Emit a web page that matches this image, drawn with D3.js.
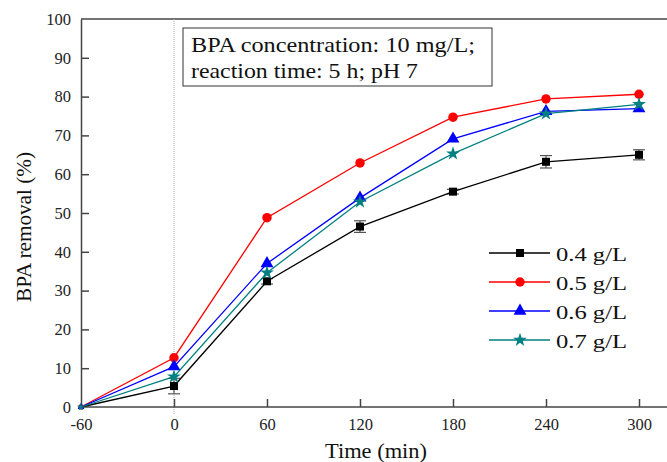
<!DOCTYPE html>
<html>
<head>
<meta charset="utf-8">
<script src="https://cdn.jsdelivr.net/npm/d3@7"></script>
<style>
  body { margin: 0; background: #fff; }
  svg text { font-family: "Liberation Serif", Tinos, "Times New Roman", "DejaVu Serif", serif; }
</style>
</head>
<body>
<svg id="drawing_region"></svg>
<script>
const times = [-60, 0, 60, 120, 180, 240, 300];
const xTicks = [-60, 0, 60, 120, 180, 240, 300];
const yTicks = [0, 10, 20, 30, 40, 50, 60, 70, 80, 90, 100];
const labels = ['0.4 g/L', '0.5 g/L', '0.6 g/L', '0.7 g/L'];
const colors = ['#000000', '#ff0000', '#0000ff', '#008080'];
const symbols = ['square', 'circle', 'triangle', 'star'];
const v04 = [0, 5.4, 32.4, 46.5, 55.5, 63.2, 65.0];
const v05 = [0, 12.7, 48.8, 62.9, 74.7, 79.4, 80.6];
const v06 = [0, 10.4, 37.0, 53.9, 69.1, 76.2, 76.9];
const v07 = [0, 7.8, 34.6, 52.9, 65.3, 75.6, 78.0];
const e04 = [0, 2.0, 0.7, 1.5, 0.6, 1.6, 1.3];
const series = [v04, v05, v06, v07];
const note = ['BPA concentration: 10 mg/L;', 'reaction time: 5 h; pH 7'];

const FONT = '"Liberation Serif", Tinos, "Times New Roman", "DejaVu Serif", serif';

const config = {
    width: 667, height: 462
};

const svg = d3.select('#drawing_region')
    .attr('width', config.width)
    .attr('height', config.height)
    .attr('font-family', FONT);

const xscale = d3.scaleLinear().domain([-60, 300]).range([81, 639]);
const yscale = d3.scaleLinear().domain([0, 100]).range([407, 19]);

const axisColor = '#444';

// top frame line runs to the right edge
svg.append('line')
    .attr('x1', xscale(-60)).attr('x2', config.width)
    .attr('y1', yscale(100)).attr('y2', yscale(100))
    .attr('stroke', axisColor).attr('stroke-width', 1.5);

// dotted line at t = 0
svg.append('line')
    .attr('x1', xscale(0)).attr('x2', xscale(0))
    .attr('y1', yscale(100)).attr('y2', yscale(0) + 8)
    .attr('stroke', '#aaa').attr('stroke-width', 1)
    .attr('stroke-dasharray', '1,1');

const xaxis = svg.append('g')
    .attr('transform', `translate(0, ${yscale(0)})`)
    .call(d3.axisBottom(xscale).tickValues(xTicks).tickSize(-8).tickPadding(11)
        .tickSizeOuter(0).tickFormat(d => String(d)));
xaxis.select('.domain').attr('d', `M${xscale(-60)},0H${config.width}`);

const yaxis = svg.append('g')
    .attr('transform', `translate(${xscale(-60)}, 0)`)
    .call(d3.axisLeft(yscale).tickValues(yTicks).tickSize(-8).tickPadding(10)
        .tickSizeOuter(0).tickFormat(d => String(d)));

[xaxis, yaxis].forEach(g => {
    g.attr('font-family', FONT);
    g.select('.domain').attr('stroke', axisColor).attr('stroke-width', 1.5);
    g.selectAll('.tick line').attr('stroke', axisColor).attr('stroke-width', 1.5);
    g.selectAll('.tick text')
        .attr('fill', '#222')
        .style('font-size', '16.5px');
});
yaxis.selectAll('.tick').filter(d => d === 0 || d === 100).select('line').remove();
xaxis.selectAll('.tick').filter(d => d === -60).select('line').remove();

// axis titles
svg.append('text')
    .attr('x', 325).attr('y', 458)
    .attr('textLength', 102).attr('lengthAdjust', 'spacingAndGlyphs')
    .style('font-size', '21px')
    .attr('fill', '#111')
    .text('Time (min)');

svg.append('text')
    .attr('transform', `translate(31, 302) rotate(-90)`)
    .attr('textLength', 150).attr('lengthAdjust', 'spacingAndGlyphs')
    .style('font-size', '21px')
    .attr('fill', '#111')
    .text('BPA removal (%)');

// note box
const noteWidths = [284, 227];
svg.append('rect')
    .attr('x', 183).attr('y', 28).attr('width', 309).attr('height', 58)
    .attr('fill', 'none').attr('stroke', '#333').attr('stroke-width', 1);
note.forEach((t, i) => {
    svg.append('text')
        .attr('x', 191).attr('y', 52 + i * 25.5)
        .attr('textLength', noteWidths[i]).attr('lengthAdjust', 'spacingAndGlyphs')
        .style('font-size', '21px')
        .attr('fill', '#111')
        .text(t);
});

const symType = {
    square: d3.symbolSquare, circle: d3.symbolCircle,
    triangle: d3.symbolTriangle, star: d3.symbolStar
};
const symSize = {square: 64, circle: 70, triangle: 72, star: 60};

// error bars for 0.4 g/L
const ebar = svg.append('g').attr('stroke', '#555').attr('stroke-width', 1.2);
times.forEach((t, i) => {
    if (e04[i] <= 0) return;
    const x = xscale(t);
    const y1 = yscale(v04[i] - e04[i]), y2 = yscale(v04[i] + e04[i]);
    ebar.append('line').attr('x1', x).attr('x2', x).attr('y1', y1).attr('y2', y2);
    ebar.append('line').attr('x1', x - 6).attr('x2', x + 6).attr('y1', y1).attr('y2', y1);
    ebar.append('line').attr('x1', x - 6).attr('x2', x + 6).attr('y1', y2).attr('y2', y2);
});

const line = d3.line().x((d, i) => xscale(times[i])).y(d => yscale(d));

series.forEach((vals, k) => {
    svg.append('path')
        .datum(vals)
        .attr('d', line)
        .attr('fill', 'none')
        .attr('stroke', colors[k])
        .attr('stroke-width', 1.3);
});

series.forEach((vals, k) => {
    svg.selectAll('.m' + k)
        .data(vals)
        .enter()
        .append('path')
        .attr('transform', (d, i) => `translate(${xscale(times[i])}, ${yscale(d)})`)
        .attr('d', (d, i) => d3.symbol().type(symType[symbols[k]]).size(i === 0 ? 20 : symSize[symbols[k]])())
        .attr('fill', colors[k]);
});

// legend
const legend = svg.append('g');
labels.forEach((lab, k) => {
    const y = 253 + k * 29;
    legend.append('line')
        .attr('x1', 489).attr('x2', 550).attr('y1', y).attr('y2', y)
        .attr('stroke', colors[k]).attr('stroke-width', 1.3);
    legend.append('path')
        .attr('transform', `translate(520, ${y})`)
        .attr('d', d3.symbol().type(symType[symbols[k]]).size(symSize[symbols[k]])())
        .attr('fill', colors[k]);
    legend.append('text')
        .attr('x', 556).attr('y', y + 8)
        .attr('textLength', 71).attr('lengthAdjust', 'spacingAndGlyphs')
        .style('font-size', '19px')
        .attr('fill', '#111')
        .text(lab);
});
</script>
</body>
</html>
